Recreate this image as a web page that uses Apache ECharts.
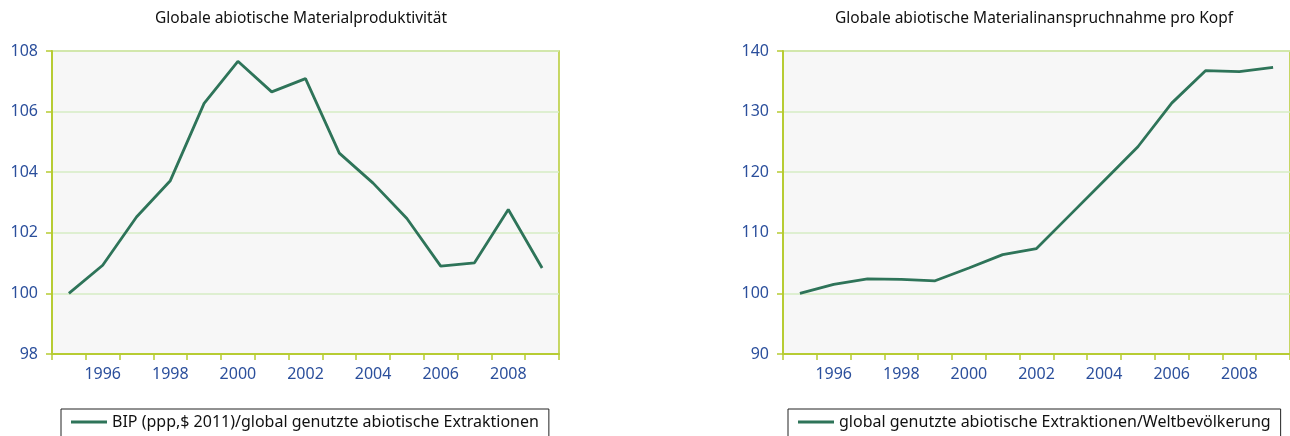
<!DOCTYPE html>
<html>
<head>
<meta charset="utf-8">
<script src="https://cdn.jsdelivr.net/npm/echarts@6/dist/echarts.min.js"></script>
<style>
  html, body { margin: 0; padding: 0; background: #fff; }
  #chart { width: 1290px; height: 436px; }
</style>
</head>
<body>
<div id="chart"></div>
<script>
// years on both x axes
const years = ['1995', '1996', '1997', '1998', '1999', '2000', '2001', '2002',
  '2003', '2004', '2005', '2006', '2007', '2008', '2009']

// left: BIP / abiotische Extraktionen (1995 = 100)
const productivity = [100.0, 100.93, 102.52, 103.72, 106.27, 107.66, 106.65, 107.09,
  104.63, 103.64, 102.47, 100.9, 101.01, 102.77, 100.84]

// right: Extraktionen / Weltbevoelkerung (1995 = 100)
const perCapita = [100.0, 101.5, 102.4, 102.3, 102.08, 104.2, 106.4, 107.4,
  113.0, 118.6, 124.2, 131.4, 136.75, 136.6, 137.3]

const leftTitle = 'Globale abiotische Materialproduktivität'
const rightTitle = 'Globale abiotische Materialinanspruchnahme pro Kopf'
const leftName = 'BIP (ppp,$ 2011)/global genutzte abiotische Extraktionen'
const rightName = 'global genutzte abiotische Extraktionen/Weltbevölkerung'

const font = '"Noto Sans", "Open Sans", sans-serif'
const lineColor = '#2e7459'
const axisColor = '#b7cc33'
const gridColor = '#d6ecc4'
const labelColor = '#2b4f9c'

const chart = echarts.init(document.getElementById('chart'))

function xAxis(gridIndex) {
  return {
    type: 'category',
    gridIndex: gridIndex,
    data: years,
    boundaryGap: true,
    axisLine: { lineStyle: { color: axisColor, width: 2 } },
    axisTick: { show: true, interval: 0, length: 6, lineStyle: { color: axisColor, width: 1.5 } },
    axisLabel: {
      interval: (i) => i % 2 === 1,
      color: labelColor, fontSize: 16, fontFamily: font, margin: 12
    },
    splitLine: { show: false }
  }
}

function yAxis(gridIndex, min, max, interval) {
  return {
    type: 'value',
    gridIndex: gridIndex,
    min: min, max: max, interval: interval,
    axisLine: { show: true, lineStyle: { color: axisColor, width: 2 } },
    axisTick: { show: true, length: 6, lineStyle: { color: axisColor, width: 1.5 } },
    axisLabel: { color: labelColor, fontSize: 16, fontFamily: font, margin: 14 },
    splitLine: { show: true, lineStyle: { color: gridColor, width: 1.5 } }
  }
}

const titleStyle = { fontSize: 15.5, fontWeight: 'normal', color: '#111', fontFamily: font }
const legendBase = {
  top: 409, orient: 'horizontal',
  borderColor: '#222', borderWidth: 1, padding: [5, 10, 8, 10],
  icon: 'rect', itemWidth: 36, itemHeight: 3, itemGap: 10,
  textStyle: { fontSize: 16, color: '#111', fontFamily: font }
}

const option = {
  backgroundColor: '#fff',
  animation: false,
  title: [
    { text: leftTitle, left: 150, top: 6, textStyle: titleStyle },
    { text: rightTitle, left: 830, top: 6, textStyle: titleStyle }
  ],
  grid: [
    { left: 52, right: 731, top: 51, bottom: 82, show: true,
      backgroundColor: '#f7f7f7', borderColor: axisColor, borderWidth: 1.5 },
    { left: 783, right: 0, top: 51, bottom: 82, show: true,
      backgroundColor: '#f7f7f7', borderColor: axisColor, borderWidth: 1.5 }
  ],
  legend: [
    Object.assign({ data: [leftName], left: 61 }, legendBase),
    Object.assign({ data: [rightName], left: 788 }, legendBase)
  ],
  xAxis: [xAxis(0), xAxis(1)],
  yAxis: [yAxis(0, 98, 108, 2), yAxis(1, 90, 140, 10)],
  series: [
    { name: leftName, type: 'line', xAxisIndex: 0, yAxisIndex: 0,
      data: productivity, symbol: 'none',
      lineStyle: { color: lineColor, width: 2.8 }, itemStyle: { color: lineColor } },
    { name: rightName, type: 'line', xAxisIndex: 1, yAxisIndex: 1,
      data: perCapita, symbol: 'none',
      lineStyle: { color: lineColor, width: 2.8 }, itemStyle: { color: lineColor } }
  ]
}

chart.setOption(option)
</script>
</body>
</html>
